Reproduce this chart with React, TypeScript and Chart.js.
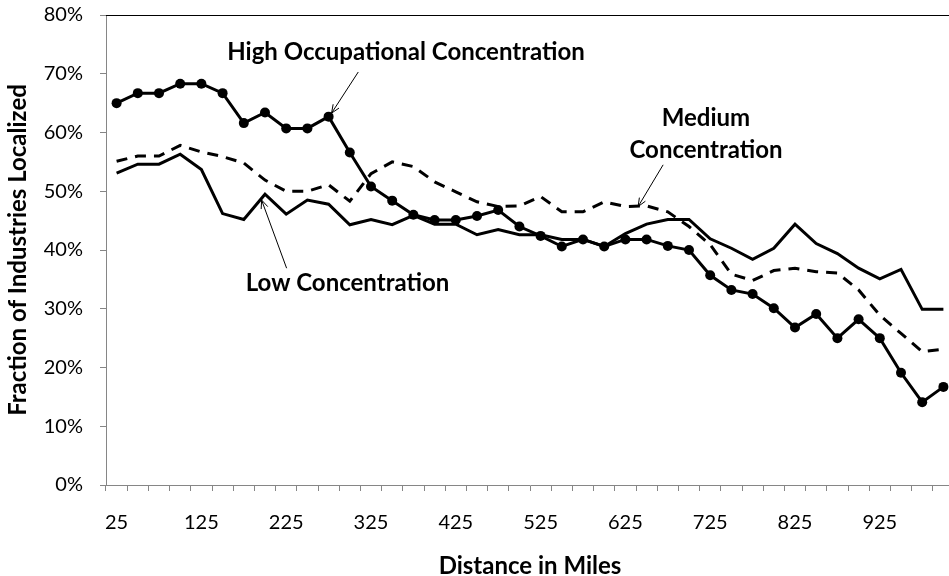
import React, { useEffect, useRef } from 'react';
import { Chart, registerables } from 'chart.js';

Chart.register(...registerables);

// ---- data ----
const distances = [
  25, 50, 75, 100, 125, 150, 175, 200, 225, 250,
  275, 300, 325, 350, 375, 400, 425, 450, 475, 500,
  525, 550, 575, 600, 625, 650, 675, 700, 725, 750,
  775, 800, 825, 850, 875, 900, 925, 950, 975, 1000,
];

const highConc = [
  65.0, 66.7, 66.7, 68.3, 68.3, 66.7, 61.6, 63.4, 60.7, 60.7,
  62.7, 56.6, 50.8, 48.4, 46.0, 45.1, 45.1, 45.8, 46.8, 44.0,
  42.4, 40.6, 41.8, 40.6, 41.8, 41.8, 40.7, 40.0, 35.7, 33.2,
  32.5, 30.1, 26.8, 29.1, 25.0, 28.2, 25.0, 19.1, 14.1, 16.7,
];

const mediumConc = [
  55.1, 56.0, 56.0, 57.8, 56.7, 55.9, 54.8, 51.9, 50.0, 50.0,
  51.1, 48.3, 53.0, 55.0, 54.2, 51.6, 49.9, 48.2, 47.4, 47.5,
  49.1, 46.5, 46.5, 48.2, 47.4, 47.5, 46.5, 44.0, 40.9, 35.9,
  34.8, 36.5, 36.9, 36.3, 36.1, 33.2, 28.9, 25.8, 22.7, 23.1,
];

const lowConc = [
  53.1, 54.6, 54.6, 56.3, 53.7, 46.2, 45.2, 49.5, 46.1, 48.5,
  47.8, 44.3, 45.2, 44.3, 45.9, 44.4, 44.4, 42.6, 43.5, 42.6,
  42.6, 41.8, 41.8, 40.6, 42.8, 44.4, 45.2, 45.2, 41.9, 40.3,
  38.4, 40.3, 44.4, 41.1, 39.4, 36.9, 35.1, 36.7, 29.9, 29.9,
];

const yMin = 0;
const yMax = 80;
const yStep = 10;
const xLabelEvery = 4;

// annotation anchors in data units (category index, percent)
const annotationTexts = [
  { lines: ['High Occupational Concentration'], x: 13.65, y: 73.7, from: [11.4, 70.3], to: [10.14, 63.3] },
  { lines: ['Low Concentration'], x: 10.89, y: 34.4, from: [8.02, 36.9], to: [6.84, 48.5] },
  { lines: ['Medium', 'Concentration'], x: 27.8, y: 59.75, from: [25.78, 54.5], to: [24.6, 47.4] },
];

const FONT = 'Lato, "Open Sans", sans-serif';

const annotationPlugin = {
  id: 'annots',
  afterDatasetsDraw(chart: any) {
    const { ctx, scales, chartArea } = chart;
    const xs = scales.x;
    const ys = scales.y;
    ctx.save();
    // top border of plot area
    ctx.strokeStyle = '#000';
    ctx.lineWidth = 1;
    ctx.beginPath();
    ctx.moveTo(chartArea.left, Math.round(chartArea.top) + 0.5);
    ctx.lineTo(chartArea.right, Math.round(chartArea.top) + 0.5);
    ctx.stroke();

    ctx.fillStyle = '#000';
    ctx.font = `bold 24px ${FONT}`;
    ctx.textAlign = 'center';
    ctx.textBaseline = 'middle';
    const lineGap = 32;
    for (const a of annotationTexts) {
      const cx = xs.getPixelForValue(a.x);
      const cy = ys.getPixelForValue(a.y);
      const n = a.lines.length;
      a.lines.forEach((t, i) => {
        ctx.fillText(t, cx, cy + (i - (n - 1) / 2) * lineGap);
      });
      const x1 = xs.getPixelForValue(a.from[0]);
      const y1 = ys.getPixelForValue(a.from[1]);
      const x2 = xs.getPixelForValue(a.to[0]);
      const y2 = ys.getPixelForValue(a.to[1]);
      ctx.lineWidth = 1;
      ctx.strokeStyle = '#000';
      ctx.beginPath();
      ctx.moveTo(x1, y1);
      ctx.lineTo(x2, y2);
      ctx.stroke();
      const ang = Math.atan2(y2 - y1, x2 - x1);
      const L = 9;
      const spread = 0.4;
      ctx.beginPath();
      ctx.moveTo(x2 - L * Math.cos(ang - spread), y2 - L * Math.sin(ang - spread));
      ctx.lineTo(x2, y2);
      ctx.lineTo(x2 - L * Math.cos(ang + spread), y2 - L * Math.sin(ang + spread));
      ctx.stroke();
    }
    ctx.restore();
  },
};

export default function App() {
  const canvasRef = useRef<HTMLCanvasElement | null>(null);

  useEffect(() => {
    const canvas = canvasRef.current;
    if (!canvas) return;
    const chart = new Chart(canvas, {
      type: 'line',
      data: {
        labels: distances.map(String),
        datasets: [
          {
            label: 'High Occupational Concentration',
            data: highConc,
            borderColor: '#000',
            backgroundColor: '#000',
            borderWidth: 3,
            pointRadius: 5,
            pointBackgroundColor: '#000',
            pointBorderWidth: 0,
            tension: 0,
          },
          {
            label: 'Medium Concentration',
            data: mediumConc,
            borderColor: '#000',
            borderWidth: 3,
            borderDash: [11, 8],
            pointRadius: 0,
            tension: 0,
          },
          {
            label: 'Low Concentration',
            data: lowConc,
            borderColor: '#000',
            borderWidth: 3,
            pointRadius: 0,
            tension: 0,
          },
        ],
      },
      options: {
        responsive: false,
        animation: false,
        devicePixelRatio: 1,
        layout: { padding: { top: 15, right: 6, left: 0, bottom: 0 } },
        plugins: {
          legend: { display: false },
          tooltip: { enabled: false },
        },
        scales: {
          x: {
            type: 'category',
            offset: true,
            grid: {
              offset: true,
              drawOnChartArea: false,
              drawTicks: true,
              tickLength: 6,
              color: '#868686',
            },
            border: { color: '#868686', width: 1 },
            ticks: {
              autoSkip: false,
              maxRotation: 0,
              minRotation: 0,
              padding: 20,
              color: '#000',
              font: { family: FONT, size: 20 },
              callback: (_v: any, i: number) => (i % xLabelEvery === 0 ? String(distances[i]) : ''),
            },
            title: {
              display: true,
              text: 'Distance in Miles',
              color: '#000',
              font: { family: FONT, size: 24, weight: 'bold', lineHeight: 0.84 },
              padding: { top: 0, bottom: 0 },
            },
            afterFit: (s: any) => { s.height = 91; s.paddingLeft = 0; s.paddingRight = 0; },
          },
          y: {
            min: yMin,
            max: yMax,
            grid: {
              drawOnChartArea: false,
              drawTicks: true,
              tickLength: 6,
              color: '#868686',
            },
            border: { color: '#868686', width: 1 },
            ticks: {
              stepSize: yStep,
              padding: 17,
              color: '#000',
              font: { family: FONT, size: 20 },
              callback: (v: any) => `${v}%`,
            },
            title: {
              display: true,
              text: 'Fraction of Industries Localized',
              color: '#000',
              font: { family: FONT, size: 24, weight: 'bold', lineHeight: 1 },
              padding: { top: 6.5, bottom: 0 },
            },
            afterFit: (s: any) => { s.width = 106; s.paddingTop = 0; s.paddingBottom = 0; },
          },
        },
      },
      plugins: [annotationPlugin],
    });
    return () => chart.destroy();
  }, []);

  return (
    <div style={{ position: 'fixed', left: 0, top: 0, width: 949, height: 576, overflow: 'hidden', background: '#fff' }}>
      <canvas ref={canvasRef} width={960} height={576} style={{ width: 960, height: 576, display: 'block' }} />
    </div>
  );
}
